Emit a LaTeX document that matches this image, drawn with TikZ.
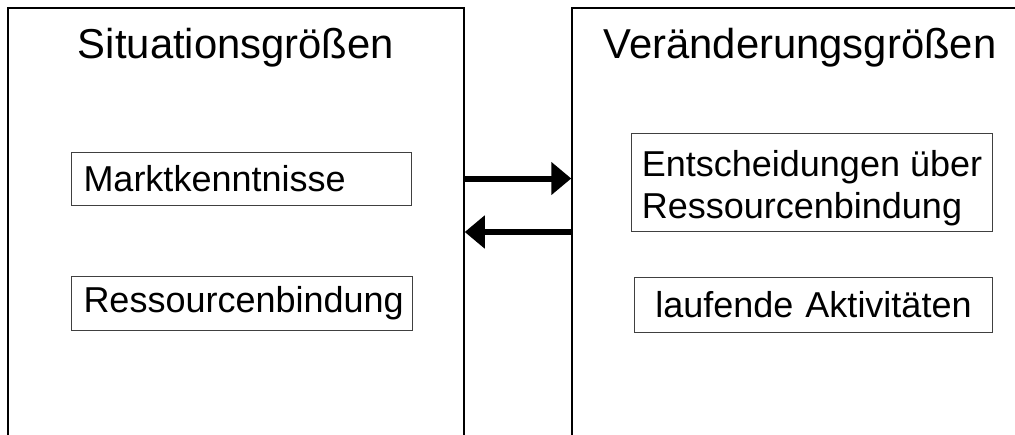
\documentclass[tikz,border=0pt]{standalone}
\usepackage{fontspec}
\setmainfont{Liberation Sans}
\usetikzlibrary{arrows.meta,positioning}

\begin{document}
\begin{tikzpicture}[
  x=1pt,y=-1pt,
  area/.style={draw,line width=1.5pt,minimum width=456pt,minimum height=480pt,inner sep=0pt},
  head/.style={anchor=base,font=\fontsize{41.8}{50}\selectfont},
  item/.style={draw=black!75,line width=1pt,inner xsep=12pt,inner ysep=0pt,
    font=\fontsize{36}{41.7}\selectfont},
  arr/.style={-{Triangle[length=20pt,width=32pt]},line width=6pt}
]
\useasboundingbox (0,0) rectangle (1015,434);
\clip (0,0) rectangle (1015,434);
\node[area] (sit) at (236,248) {};
\node[area] (ver) at (800,248) {};
\node[head] (sithead) at ([yshift=-51pt]sit.north) {Situationsgrößen};
\node[head] (verhead) at ([yshift=-51pt]ver.north) {Veränderungsgrößen};
\node[item,anchor=west,text width=316pt,align=left,minimum height=53pt] (markt) at (71,178.5) {Marktkenntnisse};
\node[item,anchor=west,text width=317pt,align=left,minimum height=54pt] (bind) at (71,303) {Ressourcenbindung};
\node[item,anchor=west,align=left,inner xsep=6pt,minimum width=361pt,minimum height=98pt] (entsch) at (631,182) {\rule{0pt}{38pt}Entscheidungen über\\Ressourcenbindung};
\node[item,anchor=west,text width=334pt,align=center,minimum height=55pt] (lauf) at (634,304.5) {laufende Aktivitäten};
\draw[arr] (sit.east |- markt.east) -- (ver.west |- markt.east);
\draw[arr] ([yshift=16pt]ver.west) -- ([yshift=16pt]sit.east);
\end{tikzpicture}
\end{document}
